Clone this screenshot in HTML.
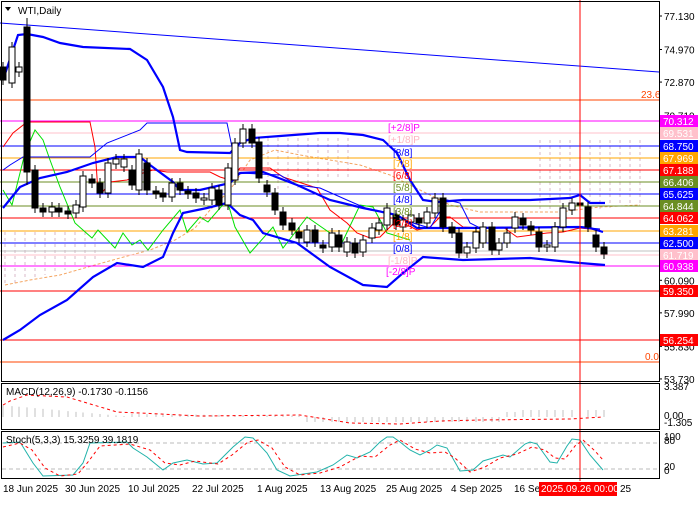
<!DOCTYPE html>
<html><head><meta charset="utf-8"><style>
body{margin:0;background:#fff;width:700px;height:500px;overflow:hidden;font-family:"Liberation Sans",sans-serif}
svg text{font-family:"Liberation Sans",sans-serif;font-size:10px}
</style></head><body>
<svg id="s" width="700" height="500" xmlns="http://www.w3.org/2000/svg">
<rect width="700" height="500" fill="#fff"/>
<!-- dashed clouds -->
<g stroke="#d8b8c8" stroke-dasharray="3,3" fill="none">
<path d="M5,232V285M15,232V283M25,232V280M35,232V278M45,232V275M55,232V272M65,232V270M75,232V268M85,232V265M95,232V262"/>
<path d="M268,138V190M278,138V190M288,138V188M298,138V188M308,138V185M318,138V183M328,138V180M338,138V178M348,138V178"/>
<path d="M540,140V212M550,140V212M560,140V212M570,140V212M580,140V212M590,140V212M600,140V210M610,140V208M620,140V206M630,140V205M640,140V205"/>
</g>
<polyline points="5,285 30,280 60,275 95,265 120,258 150,250 175,240 195,228 210,210 230,190 250,160 275,150 300,155 330,160 360,165 390,175 420,190 450,205 480,212 520,212 560,212 600,207 640,205" fill="none" stroke="#f4a460" stroke-dasharray="3,2"/>
<g>
<line x1="0" y1="100" x2="659" y2="100" stroke="#ff4500"/>
<line x1="0" y1="362" x2="659" y2="362" stroke="#ff4500"/>
<line x1="0" y1="121" x2="659" y2="121" stroke="#ff00ff"/>
<line x1="0" y1="133" x2="659" y2="133" stroke="#ffc0cb"/>
<line x1="0" y1="146" x2="659" y2="146" stroke="#0000ff"/>
<line x1="0" y1="158" x2="659" y2="158" stroke="#ffa500"/>
<line x1="0" y1="170" x2="659" y2="170" stroke="#ff0000"/>
<line x1="0" y1="182" x2="659" y2="182" stroke="#6b8e23"/>
<line x1="0" y1="194" x2="659" y2="194" stroke="#0000ff"/>
<line x1="0" y1="206" x2="659" y2="206" stroke="#6b8e23"/>
<line x1="0" y1="218" x2="659" y2="218" stroke="#ff0000"/>
<line x1="0" y1="231" x2="659" y2="231" stroke="#ffa500"/>
<line x1="0" y1="243" x2="659" y2="243" stroke="#0000ff"/>
<line x1="0" y1="251" x2="659" y2="251" stroke="#c0c0c0"/>
<line x1="0" y1="255" x2="659" y2="255" stroke="#ffc0cb"/>
<line x1="0" y1="266" x2="659" y2="266" stroke="#ff00ff"/>
<line x1="0" y1="291" x2="659" y2="291" stroke="#ff0000"/>
<line x1="0" y1="340" x2="659" y2="340" stroke="#ff0000"/>
<line x1="0" y1="23" x2="659" y2="72" stroke="#0000ff"/>
</g>
<!-- green -->
<polyline points="3,190 12,205 25,153 35,130 43,140 50,160 60,187 75,223 92,238 98,230 115,248 123,233 132,245 140,240 148,250 163,230 180,210 187,232 200,217 208,222 227,200 235,227 250,253 273,227 283,248 307,217 330,233 340,247 360,205 373,207 387,233 410,240" fill="none" stroke="#00e000"/>
<!-- red -->
<polyline points="3,147 13,133 27,122 90,122 95,147 98,193 102,193 110,182 127,180 143,173 153,170 167,172 210,172 220,177 230,180 240,168 270,168 283,177 317,188 330,210 347,223 357,233 370,238 380,237 397,220 417,230 430,227 440,217 450,217 463,227 483,228 503,227 517,237 547,233 563,232 580,228 600,230" fill="none" stroke="#ff0000"/>
<!-- thin blue -->
<polyline points="3,170 10,165 23,157 90,157 107,143 140,130 147,123 227,123 232,147 233,175 240,173 280,175 297,185 320,188 347,200 370,210 390,213 413,223 430,228 447,200 460,203 470,223 480,228 580,227 600,229" fill="none" stroke="#0000ff"/>
<!-- bollinger -->
<polyline points="3,80 18,35 27,34 43,37 60,43 83,47 130,49 147,60 163,87 173,117 180,150 187,152 230,153 240,143 253,138 280,136 320,133 340,133 363,135 383,140 397,153 410,180 423,200 437,202 463,200 530,200 570,198 580,195 590,203 605,203" fill="none" stroke="#0000ff" stroke-width="2.2"/>
<polyline points="3,208 20,187 40,178 67,172 93,163 117,157 140,157 150,165 173,182 180,190 200,190 230,183 240,173 263,172 297,185 330,200 363,208 397,215 417,228 463,228 580,227 590,228 603,232" fill="none" stroke="#0000ff" stroke-width="2.2"/>
<polyline points="3,340 20,330 40,315 67,300 93,277 117,263 143,267 163,257 173,233 183,213 207,208 227,203 240,215 253,220 263,233 297,243 330,267 363,285 387,287 403,273 423,257 463,260 530,258 580,263 605,265" fill="none" stroke="#0000ff" stroke-width="2.2"/>
<g id="candles"></g>
<g font-size="10">
<text x="388" y="131" fill="#ff00ff">[+2/8]P</text>
<text x="388" y="143" fill="#ffb6c1">[+1/8]P</text>
<text x="393" y="156" fill="#0000ff">[8/8]</text>
<text x="393" y="167" fill="#ffa500">[7/8]</text>
<text x="393" y="179" fill="#ff0000">[6/8]</text>
<text x="393" y="191" fill="#6b8e23">[5/8]</text>
<text x="393" y="203" fill="#0000ff">[4/8]</text>
<text x="393" y="215" fill="#6b8e23">[3/8]</text>
<text x="393" y="227" fill="#ff0000">[2/8]</text>
<text x="393" y="240" fill="#ffa500">[1/8]</text>
<text x="393" y="252" fill="#0000ff">[0/8]</text>
<text x="388" y="264" fill="#ffb6c1">[-1/8]P</text>
<text x="386" y="275" fill="#ff00ff">[-2/8]P</text>
<text x="641" y="98" fill="#ff4500">23.6</text>
<text x="645" y="360" fill="#ff4500">0.0</text>
</g>
<!-- MACD -->
<g stroke="#c0c0c0" id="hist"></g>
<polyline points="3,405 10,401 27,395 67,397 87,403 117,412 140,413 200,416 300,415 350,423 400,424 440,421 480,420 570,419 603,417" fill="none" stroke="#ff0000" stroke-dasharray="3,3"/>
<text x="6" y="395" fill="#000" font-size="10">MACD(12,26,9) -0.1730 -0.1156</text>
<!-- Stoch -->
<line x1="2" y1="443" x2="659" y2="443" stroke="#bbb" stroke-dasharray="4,3"/>
<line x1="2" y1="469" x2="659" y2="469" stroke="#bbb" stroke-dasharray="4,3"/>
<polyline points="3,443 20,442 33,463 43,476 73,475 83,463 90,443 127,442 133,448 147,457 163,470 173,463 187,460 203,464 217,463 233,447 245,437 253,438 267,453 277,470 290,476 317,472 333,465 347,455 357,458 370,452 380,442 387,437 393,437 400,442 410,450 420,455 430,450 437,445 447,448 460,471 473,470 483,461 503,455 510,457 525,444 530,442 537,444 550,462 557,463 567,446 572,439 580,440 590,455 603,470" fill="none" stroke="#20b2aa"/>
<polyline points="3,447 20,443 32,450 45,468 60,476 78,474 88,462 100,446 130,444 150,450 165,463 180,465 195,461 218,464 232,455 248,442 258,440 272,448 285,467 300,475 320,473 340,467 360,456 375,457 390,445 400,440 415,449 430,453 445,452 455,458 470,472 485,467 500,458 517,454 532,447 545,450 555,458 565,459 575,446 583,440 595,451 603,460" fill="none" stroke="#ff0000" stroke-dasharray="3,3"/>
<text x="6" y="443" fill="#000" font-size="10">Stoch(5,3,3) 15.3259 39.1819</text>
<line x1="580" y1="0" x2="580" y2="481" stroke="#ff0000"/>
<rect x="1.5" y="1.5" width="658" height="380" fill="none" stroke="#000"/>
<rect x="1.5" y="383.5" width="658" height="46" fill="none" stroke="#000"/>
<rect x="1.5" y="431.5" width="658" height="47" fill="none" stroke="#000"/>
<text x="18" y="14" fill="#000">WTI,Daily</text>
<path d="M5,7 L11,7 L8,11 Z" fill="#000"/>
<g id="axis" font-size="10"></g>
<g font-size="10" fill="#000">
<text x="3" y="492">18 Jun 2025</text><text x="65" y="492">30 Jun 2025</text><text x="128" y="492">10 Jul 2025</text>
<text x="192" y="492">22 Jul 2025</text><text x="257" y="492">1 Aug 2025</text><text x="320" y="492">13 Aug 2025</text>
<text x="386" y="492">25 Aug 2025</text><text x="451" y="492">4 Sep 2025</text><text x="514" y="492">16 Se</text>
<rect x="539" y="482" width="78" height="14" fill="#ff0000"/><text x="541" y="492" fill="#fff">2025.09.26 00:00</text>
<text x="620" y="492">25</text>
</g>
</svg>
<script>
var ns="http://www.w3.org/2000/svg";
function y(p){return 16+(77.13-p)*15.51;}
function el(t,a,p){var e=document.createElementNS(ns,t);for(var k in a)e.setAttribute(k,a[k]);p.appendChild(e);return e;}
// [x, top, bottom, black?]
var c=[[3,67,80,1],[12,47,83,0],[19,67,72,0],[27,27,172,1],[35,170,208,1],[43,208,212,1],[52,207,212,0],[59,208,212,1],[68,211,214,1],[76,205,213,0],[83,176,207,0],[92,179,183,1],[100,183,193,1],[108,163,193,0],[116,159,164,0],[124,159,167,0],[132,170,185,1],[139,154,190,0],[147,163,190,1],[156,191,194,1],[163,193,197,1],[172,183,197,0],[180,183,190,1],[188,191,194,1],[196,193,198,1],[204,198,200,0],[212,188,200,0],[219,190,205,1],[228,168,205,0],[235,143,180,0],[243,129,143,0],[252,129,143,1],[259,142,178,1],[267,185,192,1],[275,193,210,1],[283,212,225,1],[292,223,230,1],[299,232,238,1],[307,230,242,0],[315,230,242,1],[323,245,248,1],[332,233,247,0],[339,235,247,1],[347,242,252,0],[355,243,253,1],[363,240,252,0],[372,228,238,0],[379,223,230,0],[387,208,225,0],[396,215,225,1],[403,220,227,0],[411,215,222,0],[419,218,223,1],[427,212,223,0],[435,198,213,0],[443,198,227,1],[452,227,233,1],[459,233,253,1],[467,247,253,0],[476,232,248,0],[483,227,243,0],[492,227,250,1],[499,243,250,0],[507,233,243,0],[515,217,228,0],[523,218,225,1],[531,226,230,1],[539,232,247,1],[547,245,247,0],[555,227,247,0],[563,208,227,0],[572,203,210,0],[580,203,205,1],[588,207,227,1],[596,235,247,1],[604,247,254,1]];
var g=document.getElementById('candles');
c.forEach(function(a,i){
 var w=(i==3)?0:5;
 el('line',{x1:a[0],x2:a[0],y1:(i==3?18:a[1]-w),y2:(i==3?185:a[2]+w),stroke:'#000'},g);
 el('rect',{x:a[0]-3,y:a[1],width:6,height:Math.max(1,a[2]-a[1]),fill:a[3]?'#000':'#fff',stroke:'#000'},g);
});
var h=document.getElementById('hist');
c.forEach(function(a,i){
 var v;
 if(a[0]<130) v=417-(12-a[0]*0.09); else if(a[0]<300) v=417-(3-0.01*(a[0]-130)); else if(a[0]<500) v=422; else v=412;
 if(a[0]>520) v=410;
 el('line',{x1:a[0],x2:a[0],y1:417,y2:v,stroke:'#c0c0c0'},h);
});
var ax=document.getElementById('axis');
[[77.13,'77.130'],[74.97,'74.970'],[72.87,'72.870'],[70.71,'70.710'],[60.09,'60.090'],[57.99,'57.990'],[55.83,'55.830'],[53.73,'53.730']].forEach(function(a){
 el('text',{x:664,y:y(a[0])+4},ax).textContent=a[1];
 el('line',{x1:659,x2:662,y1:y(a[0]),y2:y(a[0]),stroke:'#000'},ax);
});
[[121,'70.312','#ff00ff'],[133,'69.531','#ffc0cb'],[146,'68.750','#0000ff'],[158,'67.969','#ffa500'],[170,'67.188','#ff0000'],[182,'66.406','#6b8e23'],[194,'65.625','#0000ff'],[206,'64.844','#6b8e23'],[218,'64.062','#ff0000'],[231,'63.281','#ffa500'],[243,'62.500','#0000ff'],[255,'61.719','#ffc0cb'],[266,'60.938','#ff00ff'],[291,'59.350','#ff0000'],[340,'56.254','#ff0000']].forEach(function(a){
 el('rect',{x:660,y:a[0]-6,width:38,height:12,fill:a[2]},ax);
 el('text',{x:663,y:a[0]+4,fill:'#fff'},ax).textContent=a[1];
});
[[390,'3.387'],[419,'0.00'],[426,'-1.305'],[440,'100'],[444,'80'],[470,'20'],[474,'0']].forEach(function(a){
 el('text',{x:664,y:a[0]},ax).textContent=a[1];
});
</script>
</body></html>
